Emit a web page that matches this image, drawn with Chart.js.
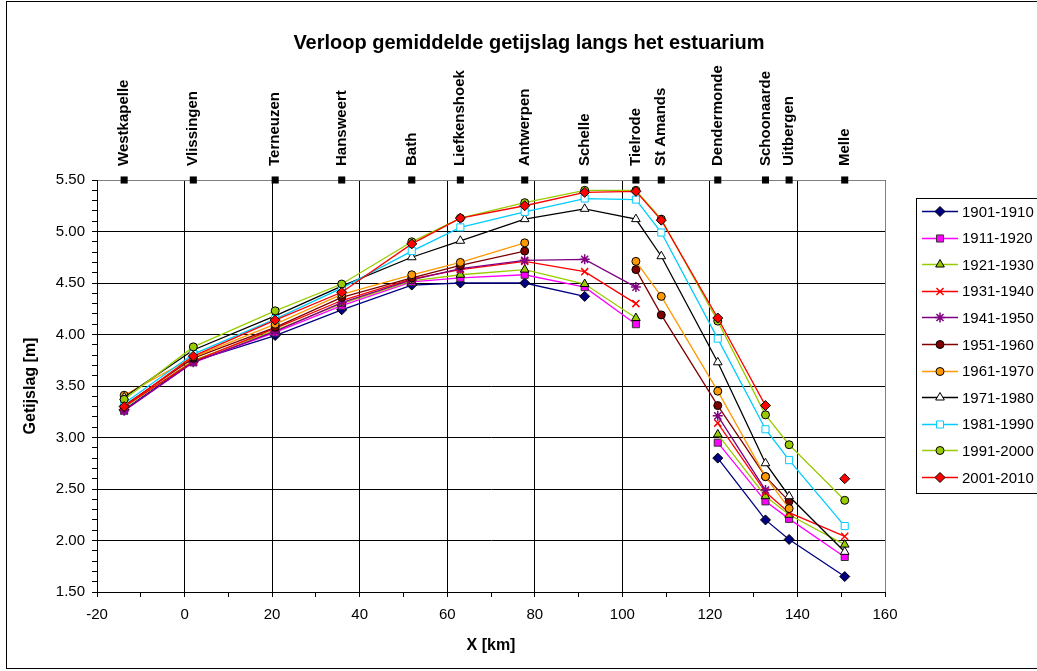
<!DOCTYPE html>
<html><head><meta charset="utf-8">
<script src="https://cdn.jsdelivr.net/npm/chart.js@4.4.1/dist/chart.umd.min.js"></script>
<style>
html,body{margin:0;padding:0;background:#fff;overflow:hidden;}
#wrap{position:relative;width:1037px;height:671px;}
#c{position:absolute;left:0;top:0;}
#frame{position:absolute;left:6px;top:1px;width:1100px;height:666px;border:1px solid #000;pointer-events:none;}
#title{position:absolute;left:229px;width:600px;top:30px;text-align:center;font-family:"Liberation Sans",Arial,sans-serif;font-weight:bold;font-size:20px;line-height:24px;color:#000;white-space:nowrap;}
#legend{position:absolute;left:916px;top:198px;width:140px;height:294px;border:1px solid #000;background:#fff;font-family:"Liberation Sans",Arial,sans-serif;font-size:15px;color:#000;}
.item{position:absolute;left:0;height:20px;display:flex;align-items:center;}
.item canvas{margin-left:5px;}
.item span{margin-left:2px;white-space:nowrap;}
</style></head><body>
<div id="wrap"><canvas id="c" width="1037" height="671"></canvas><div id="frame"></div><div id="title">Verloop gemiddelde getijslag langs het estuarium</div><div id="legend"></div></div>
<script>
// ---- data ----
const stationNames = ['Westkapelle','Vlissingen','Terneuzen','Hansweert','Bath','Liefkenshoek','Antwerpen','Schelle','Tielrode','St Amands','Dendermonde','Schoonaarde','Uitbergen','Melle'];
const stationKm = [-13.8, 2.0, 20.7, 35.9, 51.9, 63.0, 77.7, 91.4, 103.1, 108.9, 121.8, 132.7, 138.1, 150.8];
const seriesLabels = ['1901-1910','1911-1920','1921-1930','1931-1940','1941-1950','1951-1960','1961-1970','1971-1980','1981-1990','1991-2000','2001-2010'];
const s1901 = [3.27,3.74,3.99,4.24,4.48,4.50,4.50,4.37,null,null,2.80,2.20,2.01,1.65];
const s1911 = [3.26,3.73,4.02,4.28,4.51,4.55,4.58,4.46,4.10,null,2.95,2.38,2.21,1.84];
const s1921 = [3.29,3.75,4.04,4.30,4.52,4.58,4.63,4.49,4.16,null,3.03,2.43,2.25,1.96];
const s1931 = [3.30,3.74,4.06,4.33,4.54,4.63,4.71,4.61,4.30,null,3.14,2.47,2.27,2.04];
const s1941 = [3.26,3.73,4.03,4.31,4.53,4.64,4.72,4.73,4.46,null,3.21,2.49,null,null];
const s1951 = [3.31,3.77,4.07,4.36,4.55,4.67,4.81,null,4.63,4.19,3.31,2.62,2.38,null];
const s1961 = [3.41,3.78,4.10,4.39,4.58,4.70,4.89,null,4.71,4.37,3.45,2.62,2.31,null];
const s1971 = [3.39,3.85,4.18,4.47,4.75,4.91,5.12,5.22,5.12,4.76,3.73,2.75,2.43,1.89];
const s1981 = [3.33,3.81,4.15,4.45,4.81,5.04,5.19,5.32,5.31,4.99,3.96,3.08,2.78,2.14];
const s1991 = [3.37,3.88,4.23,4.49,4.90,5.13,5.28,5.40,5.40,5.12,4.13,3.22,2.93,2.39];
const s2001 = [3.30,3.79,4.14,4.41,4.88,5.13,5.25,5.38,5.39,5.11,4.16,3.31,null,2.60];
const seriesValues = [s1901,s1911,s1921,s1931,s1941,s1951,s1961,s1971,s1981,s1991,s2001];
const xMin = -20, xMax = 160, yMin = 1.5, yMax = 5.5;

// ---- styles ----
const styles = [
  {line:'#000080', fill:'#000080', edge:'#000000', shape:'rectRot', r:5, bw:1},
  {line:'#FF00FF', fill:'#FF00FF', edge:'#333333', shape:'rect', r:5, bw:1},
  {line:'#99CC00', fill:'#99CC00', edge:'#000000', shape:'triangle', r:5, bw:1},
  {line:'#FF0000', fill:'rgba(0,0,0,0)', edge:'#FF0000', shape:'crossRot', r:5, bw:1.5},
  {line:'#800080', fill:'rgba(0,0,0,0)', edge:'#800080', shape:'star', r:5, bw:1.5},
  {line:'#800000', fill:'#800000', edge:'#000000', shape:'circle', r:4, bw:1},
  {line:'#FF9900', fill:'#FF9900', edge:'#000000', shape:'circle', r:4, bw:1},
  {line:'#000000', fill:'#FFFFFF', edge:'#000000', shape:'triangle', r:5, bw:1},
  {line:'#00CCFF', fill:'#FFFFFF', edge:'#00CCFF', shape:'rect', r:5, bw:1},
  {line:'#99CC00', fill:'#99CC00', edge:'#000000', shape:'circle', r:4, bw:1},
  {line:'#FF0000', fill:'#FF0000', edge:'#000000', shape:'rectRot', r:5, bw:1}
];
const FONT = '"Liberation Sans", Arial, sans-serif';
Chart.defaults.font.family = FONT;
Chart.defaults.color = '#000';

const isHalf = v => Math.abs(v*2 - Math.round(v*2)) < 1e-6;

const datasets = [{
  type:'scatter', label:'stations', xAxisID:'x', yAxisID:'y',
  data: stationKm.map(x => ({x, y: yMax})),
  pointStyle:'rect', pointRadius:5, backgroundColor:'#000', borderColor:'#000', pointBorderWidth:0,
  showLine:false, clip:false, order:-1
}];
seriesLabels.forEach((lab, i) => {
  const st = styles[i];
  datasets.push({
    type:'line', label: lab, xAxisID:'x', yAxisID:'y',
    data: stationKm.map((x, j) => ({x, y: seriesValues[i][j]})),
    borderColor: st.line, backgroundColor: st.fill, borderWidth: 1.3,
    pointStyle: st.shape, pointRadius: st.r, pointHoverRadius: st.r,
    pointBackgroundColor: st.fill, pointBorderColor: st.edge, pointBorderWidth: st.bw,
    tension: 0, spanGaps: false, fill: false, clip: false,
    order: seriesLabels.length - i
  });
});

const plotBorder = {
  id:'plotBorder',
  beforeDatasetsDraw(chart){
    const {ctx, chartArea:a} = chart;
    ctx.save();
    ctx.strokeStyle = '#808080'; ctx.lineWidth = 1;
    ctx.beginPath();
    ctx.moveTo(a.left, a.top+0.5); ctx.lineTo(a.right+0.5, a.top+0.5); ctx.lineTo(a.right+0.5, a.bottom);
    ctx.stroke();
    ctx.strokeStyle = '#000';
    ctx.beginPath();
    ctx.moveTo(a.left+0.5, a.top); ctx.lineTo(a.left+0.5, a.bottom+0.5); ctx.lineTo(a.right, a.bottom+0.5);
    ctx.stroke();
    ctx.restore();
  }
};

new Chart(document.getElementById('c'), {
  type:'line',
  data:{datasets},
  options:{
    responsive:false, animation:false, devicePixelRatio:1,
    layout:{padding:{left:0, right:152, top:0, bottom:0}},
    plugins:{
      legend:{display:false}, tooltip:{enabled:false}, title:{display:false}
    },
    scales:{
      x:{type:'linear', position:'bottom', min:xMin, max:xMax,
        afterFit: s => { s.height = 79; },
        ticks:{stepSize:10, autoSkip:false, maxRotation:0, padding:9, color:'#000', font:{size:15, family:FONT},
          callback: v => (Math.round(v) % 20 === 0 ? String(Math.round(v)) : '')},
        grid:{color: c => (c.tick && Math.round(c.tick.value) % 20 === 0 ? '#000' : 'rgba(0,0,0,0)'), tickColor:'#000', tickLength:5, lineWidth:1},
        border:{color:'#000', width:1},
        title:{display:true, text:'X [km]', color:'#000', font:{size:16, weight:'bold', family:FONT}, padding:{top:0, bottom:16}}
      },
      x2:{type:'linear', position:'top', min:xMin, max:xMax,
        afterBuildTicks: s => { s.ticks = stationKm.map(v => ({value:v})); },
        afterFit: s => { s.height = 180; },
        ticks:{autoSkip:false, minRotation:90, maxRotation:90, padding:14, labelOffset:18, color:'#000', font:{size:15, weight:'bold', family:FONT},
          callback: (v, i) => stationNames[i]},
        grid:{display:false, drawTicks:false}, border:{display:false}
      },
      y:{type:'linear', position:'left', min:yMin, max:yMax,
        afterFit: s => { s.width = 97; },
        ticks:{stepSize:0.1, autoSkip:false, padding:7, color:'#000', font:{size:15, family:FONT},
          callback: v => (isHalf(v) ? Number(v).toFixed(2) : '')},
        grid:{color: c => (c.tick && isHalf(c.tick.value) ? '#000' : 'rgba(0,0,0,0)'), tickColor:'#000', tickLength:5, lineWidth:1},
        border:{color:'#000', width:1},
        title:{display:true, text:'Getijslag [m]', color:'#000', font:{size:16, weight:'bold', family:FONT}, padding:{top:21, bottom:0}}
      }
    }
  },
  plugins:[plotBorder]
});

// ---- legend (HTML, built from the series) ----
const leg = document.getElementById('legend');
seriesLabels.forEach((lab, i) => {
  const st = styles[i];
  const item = document.createElement('div');
  item.className = 'item';
  item.style.top = (2 + i * 26.6) + 'px';
  const cv = document.createElement('canvas');
  cv.width = 38; cv.height = 20;
  const ctx = cv.getContext('2d');
  ctx.strokeStyle = st.line; ctx.lineWidth = 1.5;
  ctx.beginPath(); ctx.moveTo(0, 10.5); ctx.lineTo(36, 10.5); ctx.stroke();
  ctx.fillStyle = st.fill; ctx.strokeStyle = st.edge; ctx.lineWidth = st.bw;
  if (Chart.helpers && Chart.helpers.drawPoint) {
    Chart.helpers.drawPoint(ctx, {pointStyle: st.shape, radius: st.r, rotation: 0, borderWidth: st.bw}, 18, 10.5);
  }
  const sp = document.createElement('span');
  sp.textContent = lab;
  item.appendChild(cv); item.appendChild(sp);
  leg.appendChild(item);
});
</script>
</body></html>
